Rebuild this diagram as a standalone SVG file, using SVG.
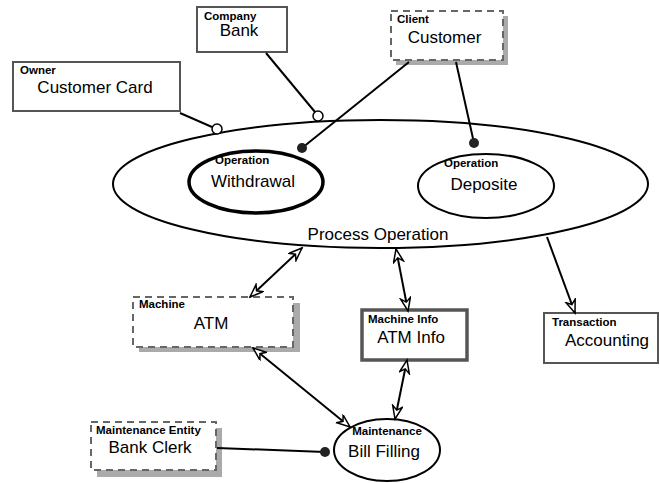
<svg xmlns="http://www.w3.org/2000/svg" width="660" height="483" viewBox="0 0 660 483">
<style>
text{font-family:"Liberation Sans",Arial,sans-serif;fill:#000}
.sm{font-size:11.5px;font-weight:bold}
.lg{font-size:17px}
.mid{text-anchor:middle}
.box{fill:#fff;stroke:#555;stroke-width:2}
.dash{fill:#fff;stroke:#666;stroke-width:2;stroke-dasharray:7,5}
.shadow{fill:#aaa}
.ell{fill:#fff;stroke:#000;stroke-width:2}
.con{fill:none;stroke:#000;stroke-width:2}
.dot{fill:#222}
.ring{fill:#fff;stroke:#000;stroke-width:1.5}
</style>
<defs>
<marker id="arr" markerUnits="userSpaceOnUse" markerWidth="16" markerHeight="12" refX="14" refY="5.5" orient="auto-start-reverse">
<path d="M1,0.5 L14,5.5 L1,10.5 L5,5.5 z" fill="#fff" stroke="#000" stroke-width="1.5" stroke-linejoin="miter"/>
</marker>
</defs>
<g id="process-operation">
<ellipse class="ell" cx="380.5" cy="184" rx="267.5" ry="64"/>
<text class="lg mid" x="378" y="240">Process Operation</text>
</g>
<g id="withdrawal">
<ellipse cx="256" cy="182" rx="67" ry="31" fill="#fff" stroke="#000" stroke-width="3.5"/>
<text class="sm" x="215" y="164">Operation</text>
<text class="lg mid" x="253" y="187">Withdrawal</text>
</g>
<g id="deposite">
<ellipse class="ell" cx="486" cy="186" rx="68" ry="32"/>
<text class="sm" x="444" y="167">Operation</text>
<text class="lg mid" x="484" y="190">Deposite</text>
</g>
<g id="customer-card">
<rect class="box" x="13" y="62" width="167" height="49"/>
<text class="sm" x="20" y="74">Owner</text>
<text class="lg mid" x="95" y="93">Customer Card</text>
</g>
<g id="bank">
<rect class="box" x="197" y="7" width="90" height="45"/>
<text class="sm" x="204" y="20">Company</text>
<text class="lg mid" x="239" y="36">Bank</text>
</g>
<g id="customer">
<rect class="shadow" x="396" y="16" width="112" height="49"/>
<rect class="dash" x="391" y="11" width="112" height="49"/>
<text class="sm" x="397" y="23">Client</text>
<text class="lg mid" x="444.5" y="43">Customer</text>
</g>
<g id="atm">
<rect class="shadow" x="139" y="303" width="161" height="49"/>
<rect class="dash" x="133" y="297" width="160" height="50"/>
<text class="sm" x="139" y="308">Machine</text>
<text class="lg mid" x="211" y="329">ATM</text>
</g>
<g id="atm-info">
<rect x="362" y="310" width="105" height="50" fill="#fff" stroke="#555" stroke-width="3.5"/>
<text class="sm" x="368" y="323">Machine Info</text>
<text class="lg mid" x="411" y="343">ATM Info</text>
</g>
<g id="accounting">
<rect class="box" x="544" y="313" width="114" height="50"/>
<text class="sm" x="552" y="326">Transaction</text>
<text class="lg mid" x="607" y="346">Accounting</text>
</g>
<g id="bank-clerk">
<rect class="shadow" x="97" y="428" width="125" height="49"/>
<rect class="dash" x="91" y="422" width="125" height="48"/>
<text class="sm" x="96" y="434">Maintenance Entity</text>
<text class="lg mid" x="150" y="453">Bank Clerk</text>
</g>
<g id="bill-filling">
<ellipse class="ell" cx="387" cy="450" rx="53" ry="31"/>
<text class="sm mid" x="387" y="435">Maintenance</text>
<text class="lg mid" x="384" y="457">Bill Filling</text>
</g>
<g id="connectors">
<line class="con" x1="180" y1="113" x2="212" y2="127"/>
<circle class="ring" cx="217" cy="129" r="5"/>
<line class="con" x1="266" y1="53" x2="315" y2="112"/>
<circle class="ring" cx="318" cy="116" r="5"/>
<line class="con" x1="409" y1="62" x2="302" y2="148"/>
<circle class="dot" cx="302" cy="148" r="5"/>
<line class="con" x1="456" y1="62" x2="474" y2="143"/>
<circle class="dot" cx="474" cy="143" r="5"/>
<line class="con" x1="250" y1="297" x2="302" y2="248" marker-start="url(#arr)" marker-end="url(#arr)"/>
<line class="con" x1="396" y1="249" x2="408" y2="311" marker-start="url(#arr)" marker-end="url(#arr)"/>
<line class="con" x1="547" y1="237" x2="575" y2="313" marker-end="url(#arr)"/>
<line class="con" x1="253" y1="348" x2="350" y2="427" marker-start="url(#arr)" marker-end="url(#arr)"/>
<line class="con" x1="407" y1="360" x2="395" y2="419" marker-start="url(#arr)" marker-end="url(#arr)"/>
<line class="con" x1="217" y1="448" x2="325" y2="452"/>
<circle class="dot" cx="325" cy="452" r="5"/>
</g>
</svg>
